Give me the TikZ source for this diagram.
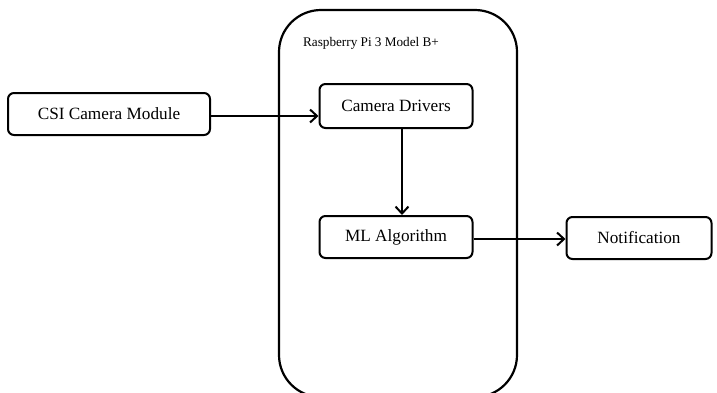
\documentclass[tikz,border=0pt]{standalone}
\usepackage{fontspec}
\setmainfont{Liberation Serif}
\usepackage{tikz}
\usetikzlibrary{arrows.meta}

\begin{document}
\begin{tikzpicture}[x=1pt, y=-1pt,
    block/.style={draw, line width=2pt, rounded corners=6pt, minimum height=42pt, font=\fontsize{17.2}{20}\selectfont},
    flow/.style={line width=2pt, -{Straight Barb[length=7pt, width=13pt, line width=2pt]}}]

        \useasboundingbox (0,0) rectangle (717,392);

        % board
        \draw[line width=2.2pt, rounded corners=42pt] (279,10) rectangle (517,397);
        \node[font=\fontsize{13.2}{16}\selectfont] (board) at (371,43) {Raspberry Pi 3 Model B+};

        \node[block, minimum width=202pt] (csi) at (109,114) {CSI Camera Module};
        \node[block, minimum width=153pt, minimum height=44pt] (drv) at (396,106) {Camera Drivers};
        \node[block, minimum width=153pt] (ml) at (396,237) {ML Algorithm};
        \node[block, minimum width=145pt] (notif) at (639,238) {Notification};

        \draw[flow] (csi.east |- 0,116) -- (drv.west |- 0,116);
        \draw[flow] ([xshift=6pt]drv.south) -- ([xshift=6pt]ml.north);
        \draw[flow] (ml.east |- 0,239) -- (notif.west |- 0,239);

    \end{tikzpicture}
\end{document}
